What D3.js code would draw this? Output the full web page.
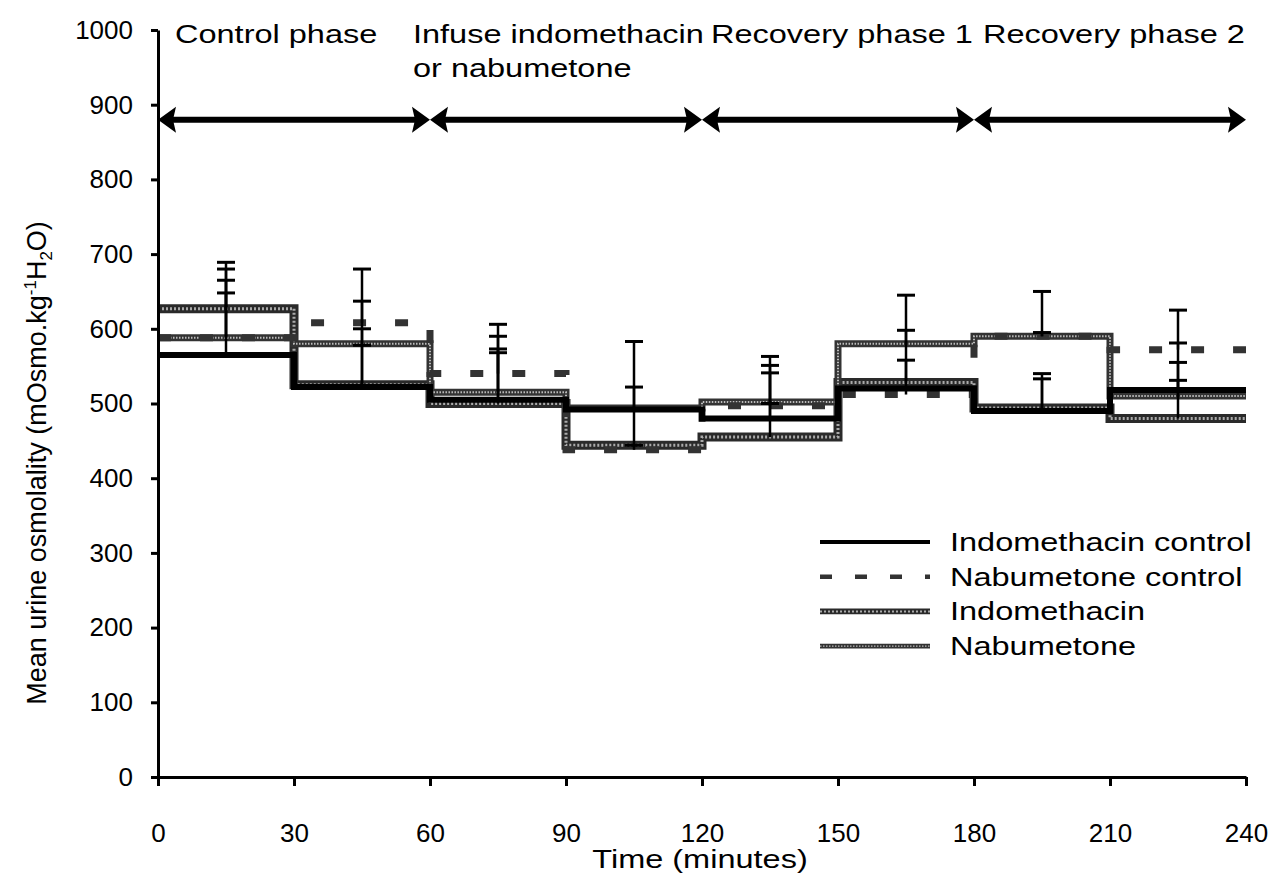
<!DOCTYPE html>
<html lang="en">
<head>
    <meta charset="UTF-8">
    <title>Mean urine osmolality</title>
    <script src="https://d3js.org/d3.v7.min.js"></script>
    <style>
        body { margin: 0; background: #fff; }
        text { font-family: "Liberation Sans", Arial, sans-serif; fill: #000; }
        .axis path, .axis line { stroke: #000; stroke-width: 3; }
        .axis text { font-size: 26px; }
    </style>
</head>
<body>
<svg width="1281" height="896"></svg>
<script>
    // 時間區段起點 (minutes)
    const starts = [0, 30, 60, 90, 120, 150, 180, 210];
    const xTicks = [0, 30, 60, 90, 120, 150, 180, 210, 240];
    const yTicks = [0, 100, 200, 300, 400, 500, 600, 700, 800, 900, 1000];

    // 各組平均值
    const indoControl  = [565, 522, 505, 492, 480, 520, 490, 518];
    const nabControl   = [588, 608, 540, 438, 497, 512, 590, 572];
    const indomethacin = [627, 525, 500, 444, 455, 528, 494, 480];
    const nabumetone   = [588, 580, 515, 494, 502, 580, 590, 510];

    // 誤差棒上端 (mean + SE)
    const indoControlTop  = [648, 578, 568, 522, 541, 558, 540, 581];
    const nabControlTop   = [680, 680, 606, 444, 551, 520, 595, 625];
    const indomethacinTop = [689, 600, 573, 492, 500, 598, 533, 531];
    const nabumetoneTop   = [665, 637, 590, 583, 563, 645, 650, 555];

    // 實驗階段
    const phaseSpans = [[0, 60], [60, 120], [120, 180], [180, 240]];
    const arrowLevel = 880;
    const seriesNames = ["Indomethacin control", "Nabumetone control", "Indomethacin", "Nabumetone"];

    const svg = d3.select("svg");
    const x = d3.scaleLinear().domain([0, 240]).range([158, 1246]);
    const y = d3.scaleLinear().domain([0, 1000]).range([777, 30]);

    // 線條樣式
    const styles = {
        solid:  {w: 6, dash: null, color: "#000", tex: null},
        dashed: {w: 7, dash: "13,29", color: "#333", tex: null},
        hatch:  {w: 9, dash: null, color: "#2a2a2a", tex: {w: 3, dash: "2,2", color: "#aaa"}},
        wavy:   {w: 7, dash: null, color: "#333", tex: {w: 2, dash: "1.5,1.5", color: "#bbb"}}
    };

    function drawStyled(g, d, st, k) {
        g.append("path").attr("d", d)
            .attr("fill", "none").attr("stroke", st.color)
            .attr("stroke-width", st.w * k)
            .attr("stroke-dasharray", st.dash);
        if (st.tex) {
            g.append("path").attr("d", d)
                .attr("fill", "none").attr("stroke", st.tex.color)
                .attr("stroke-width", st.tex.w * k)
                .attr("stroke-dasharray", st.tex.dash);
        }
    }

    const series = [
        {name: seriesNames[0], values: indoControl,  tops: indoControlTop,  style: styles.solid},
        {name: seriesNames[1], values: nabControl,   tops: nabControlTop,   style: styles.dashed},
        {name: seriesNames[2], values: indomethacin, tops: indomethacinTop, style: styles.hatch},
        {name: seriesNames[3], values: nabumetone,   tops: nabumetoneTop,   style: styles.wavy}
    ];

    const step = d3.line().curve(d3.curveStepAfter).x(d => x(d[0])).y(d => y(d[1]));

    // 繪製階梯線 (由下往上疊)
    [2, 3, 1, 0].forEach(i => {
        const s = series[i];
        const pts = starts.map((t, j) => [t, s.values[j]]);
        pts.push([240, s.values[s.values.length - 1]]);
        drawStyled(svg.append("g"), step(pts), s.style, 1);
    });

    // 誤差棒
    const eb = svg.append("g");
    series.forEach(s => {
        starts.forEach((t, j) => {
            const cx = x(t + 15);
            eb.append("line")
                .attr("x1", cx).attr("x2", cx)
                .attr("y1", y(s.values[j])).attr("y2", y(s.tops[j]))
                .attr("stroke", "#000").attr("stroke-width", 2.5);
            eb.append("line")
                .attr("x1", cx - 9).attr("x2", cx + 9)
                .attr("y1", y(s.tops[j])).attr("y2", y(s.tops[j]))
                .attr("stroke", "#000").attr("stroke-width", 3);
        });
    });

    // 座標軸
    svg.append("g")
        .attr("class", "axis")
        .attr("transform", "translate(0," + y(0) + ")")
        .call(d3.axisBottom(x).tickValues(xTicks).tickSize(9).tickSizeOuter(0))
      .selectAll(".tick text")
        .attr("y", 65).attr("dy", 0);

    svg.append("g")
        .attr("class", "axis")
        .attr("transform", "translate(" + x(0) + ",0)")
        .call(d3.axisLeft(y).tickValues(yTicks).tickFormat(d3.format("d"))
            .tickSize(7).tickPadding(18).tickSizeOuter(0));

    // 階段箭頭
    const ay = y(arrowLevel);
    const ag = svg.append("g");
    phaseSpans.forEach(sp => {
        const x0 = x(sp[0]), x1 = x(sp[1]);
        ag.append("line")
            .attr("x1", x0 + 10).attr("x2", x1 - 10)
            .attr("y1", ay).attr("y2", ay)
            .attr("stroke", "#000").attr("stroke-width", 6);
        ag.append("path")
            .attr("d", `M${x0},${ay} L${x0 + 18},${ay - 13} L${x0 + 15},${ay} L${x0 + 18},${ay + 13} Z`)
            .attr("fill", "#000");
        ag.append("path")
            .attr("d", `M${x1},${ay} L${x1 - 18},${ay - 13} L${x1 - 15},${ay} L${x1 - 18},${ay + 13} Z`)
            .attr("fill", "#000");
    });

    // 階段標籤
    function stretched(txt, px, py, size) {
        svg.append("text")
            .attr("transform", `translate(${px},${py}) scale(1.3,1.05)`)
            .style("font-size", size + "px")
            .text(txt);
    }
    stretched("Control phase", 175, 43, 25);
    stretched("Infuse indomethacin", 413, 43, 25);
    stretched("or nabumetone", 413, 77, 25);
    stretched("Recovery phase 1", 711, 43, 25);
    stretched("Recovery phase 2", 983, 43, 25);

    // 圖例
    const lg = svg.append("g");
    series.forEach((s, i) => {
        const ly = 542 + i * 34.7;
        const lst = Object.assign({}, s.style);
        if (s.style === styles.dashed) lst.dash = "12,23";
        drawStyled(lg, `M820,${ly} L930,${ly}`, lst, 0.65);
        lg.append("text")
            .attr("transform", `translate(950,${ly + 9}) scale(1.3,1.05)`)
            .style("font-size", "25px")
            .text(s.name);
    });

    // 軸標題
    svg.append("text")
        .attr("transform", "translate(700,868) scale(1.3,1)")
        .attr("text-anchor", "middle")
        .style("font-size", "25px")
        .text("Time (minutes)");

    const yt = svg.append("text")
        .attr("transform", "translate(46,463) rotate(-90)")
        .attr("text-anchor", "middle")
        .style("font-size", "27px");
    yt.append("tspan").text("Mean urine osmolality (mOsmo.kg");
    yt.append("tspan").attr("dy", -10).style("font-size", "17px").text("-1");
    yt.append("tspan").attr("dy", 10).text("H");
    yt.append("tspan").attr("dy", 6).style("font-size", "17px").text("2");
    yt.append("tspan").attr("dy", -6).text("O)");
</script>
</body>
</html>
